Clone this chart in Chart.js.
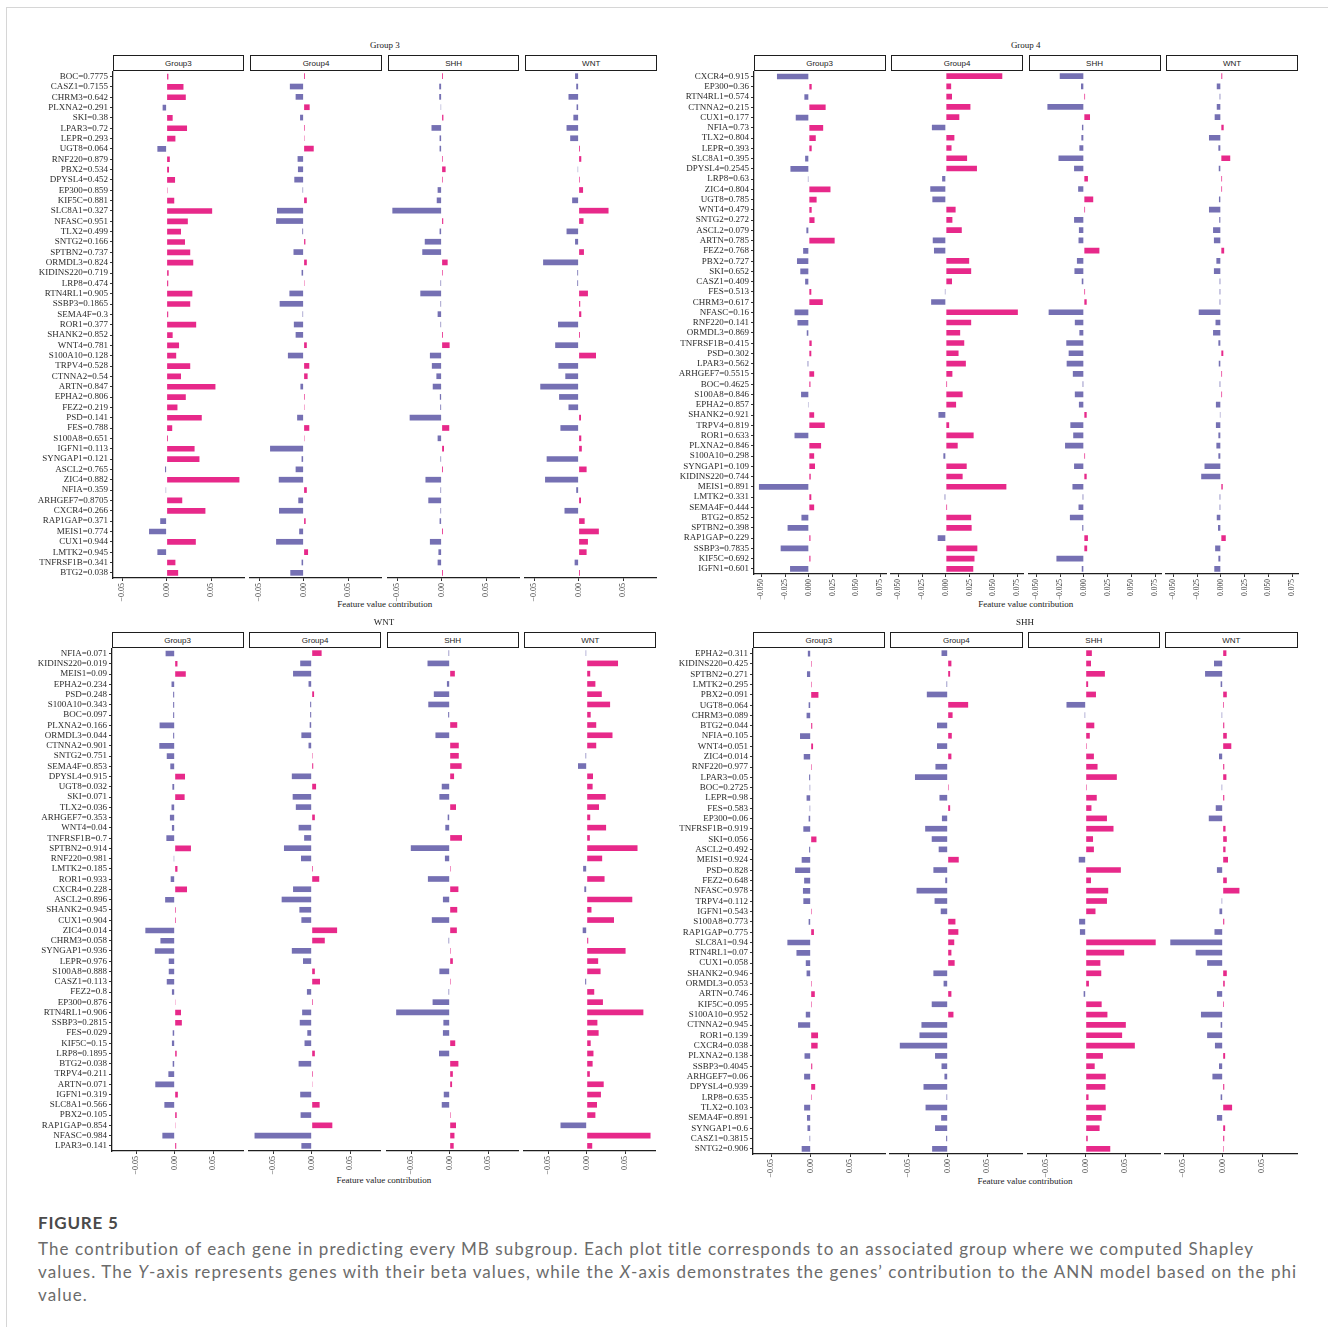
<!DOCTYPE html>
<html lang="en">
<head>
<meta charset="UTF-8">
<title>Figure 5</title>
<script src="https://cdn.jsdelivr.net/npm/chart.js"></script>
<style>
  body { margin: 0; background: #fff; }
  #fig { position: relative; width: 1328px; height: 1327px; overflow: hidden; background: #fff; }
  #frame { position: absolute; left: 6px; top: 7px; right: -2px; bottom: -2px; border-top: 1px solid #d6d6d6; border-left: 1px solid #d6d6d6; }
  #fig canvas { position: absolute; }
  .ptitle, .xtitle { position: absolute; transform: translate(-50%, -50%); white-space: nowrap;
    font: 9px "Liberation Serif", "Times New Roman", serif; color: #1a1a1a; }
  .strip { position: absolute; box-sizing: border-box; border: 1.4px solid #1e1e1e; background: #fff;
    display: flex; align-items: center; justify-content: center;
    font: 8px "Liberation Sans", Arial, sans-serif; color: #1a1a1a; }
  .figlabel { position: absolute; left: 38px; top: 1213px; font: bold 17px Lato, "Open Sans", sans-serif; color: #4a4a4a; line-height: 20px; letter-spacing: 0.8px; }
  .caption { position: absolute; left: 38px; top: 1237px; font: 17px Lato, "Open Sans", sans-serif; color: #6b6b6b; line-height: 23px; white-space: nowrap; }
</style>
</head>
<body>
<div id="fig">
  <div id="frame"></div>
  <div class="figlabel">FIGURE 5</div>
  <div class="caption"><span id="capL1">The contribution of each gene in predicting every MB subgroup. Each plot title corresponds to an associated group where we computed Shapley</span><br>values. The <i>Y</i>-axis represents genes with their beta values, while the <i>X</i>-axis demonstrates the genes’ contribution to the ANN model based on the phi<br>value.</div>
</div>

<script>
// facet names and x tick labels
const facetNames = ['Group3', 'Group4', 'SHH', 'WNT'];
const shortTickVals = [-0.05, 0, 0.05];
const shortTickLabels = ['−0.05', '0.00', '0.05'];
const longTickVals = [-0.05, -0.025, 0, 0.025, 0.05, 0.075];
const longTickLabels = ['−0.050', '−0.025', '0.000', '0.025', '0.050', '0.075'];

// ---- panel "Group 3"
const genesG3 = ['BOC=0.7775','CASZ1=0.7155','CHRM3=0.642','PLXNA2=0.291','SKI=0.38','LPAR3=0.72','LEPR=0.293','UGT8=0.064','RNF220=0.879','PBX2=0.534','DPYSL4=0.452','EP300=0.859','KIF5C=0.881','SLC8A1=0.327','NFASC=0.951','TLX2=0.499','SNTG2=0.166','SPTBN2=0.737','ORMDL3=0.824','KIDINS220=0.719','LRP8=0.474','RTN4RL1=0.905','SSBP3=0.1865','SEMA4F=0.3','ROR1=0.377','SHANK2=0.852','WNT4=0.781','S100A10=0.128','TRPV4=0.528','CTNNA2=0.54','ARTN=0.847','EPHA2=0.806','FEZ2=0.219','PSD=0.141','FES=0.788','S100A8=0.651','IGFN1=0.113','SYNGAP1=0.121','ASCL2=0.765','ZIC4=0.882','NFIA=0.359','ARHGEF7=0.8705','CXCR4=0.266','RAP1GAP=0.371','MEIS1=0.774','CUX1=0.944','LMTK2=0.945','TNFRSF1B=0.341','BTG2=0.038'];
const g3Group3 = [0.002,0.019,0.0216,-0.0045,0.0068,0.023,0.0099,-0.0104,0.0036,0.0027,0.0095,0.001,0.0086,0.0513,0.0239,0.0162,0.0207,0.0266,0.030,0.0023,0.0018,0.029,0.0266,0.0018,0.0333,0.0068,0.014,0.0108,0.0266,0.0162,0.055,0.0216,0.0122,0.0396,0.0063,0.0015,0.0315,0.037,-0.0018,0.082,-0.001,0.0176,0.0437,-0.0072,-0.0198,0.0329,-0.0104,0.0099,0.013];
const g3Group4 = [0.0015,-0.0155,-0.009,0.0068,-0.004,0.0013,0.001,0.0114,-0.0068,-0.0064,-0.0105,-0.0012,0.0036,-0.030,-0.031,-0.0015,0.002,-0.0114,0.0036,-0.0023,0.001,-0.016,-0.027,-0.0012,-0.011,-0.009,0.0036,-0.0177,0.0064,0.0045,-0.0036,0.0013,0.001,-0.0073,0.0064,0.001,-0.0378,-0.0023,-0.009,-0.028,0.0036,-0.006,-0.0277,0.0023,-0.005,-0.031,0.005,-0.0023,-0.015];
const g3SHH = [0.0015,-0.0027,-0.0027,-0.001,0.002,-0.0114,-0.0023,-0.0023,0.0013,0.0045,0.0013,-0.0045,-0.0055,-0.0555,0.0018,-0.0023,-0.019,-0.0218,0.0068,0.0013,-0.0013,-0.024,-0.0013,-0.0045,-0.0013,0.0015,0.009,-0.0132,-0.011,-0.0059,-0.010,-0.002,-0.0015,-0.036,0.0086,-0.0045,0.0027,-0.0013,0.0015,-0.0182,-0.0013,-0.015,-0.0013,-0.0023,0.0015,-0.0132,-0.0036,-0.0045,0.0015];
const g3WNT = [-0.004,-0.0027,-0.0114,-0.0023,-0.0059,-0.0136,-0.0095,0.0015,0.003,-0.001,0.0013,0.005,-0.0073,0.0337,0.0055,-0.0136,-0.004,0.006,-0.040,-0.0015,-0.0015,0.0105,0.0018,0.003,-0.0232,0.0015,-0.0264,0.0196,-0.0228,-0.015,-0.0432,-0.022,-0.0114,0.0027,-0.0205,0.003,0.0036,-0.036,0.009,-0.0378,-0.0027,0.0027,-0.0159,0.0068,0.0228,0.0105,0.009,-0.0045,0.0015];

// ---- panel "Group 4"
const genesG4 = ['CXCR4=0.915','EP300=0.36','RTN4RL1=0.574','CTNNA2=0.215','CUX1=0.177','NFIA=0.73','TLX2=0.804','LEPR=0.393','SLC8A1=0.395','DPYSL4=0.2545','LRP8=0.63','ZIC4=0.804','UGT8=0.785','WNT4=0.479','SNTG2=0.272','ASCL2=0.079','ARTN=0.785','FEZ2=0.768','PBX2=0.727','SKI=0.652','CASZ1=0.409','FES=0.513','CHRM3=0.617','NFASC=0.16','RNF220=0.141','ORMDL3=0.869','TNFRSF1B=0.415','PSD=0.302','LPAR3=0.562','ARHGEF7=0.5515','BOC=0.4625','S100A8=0.846','EPHA2=0.857','SHANK2=0.921','TRPV4=0.819','ROR1=0.633','PLXNA2=0.846','S100A10=0.298','SYNGAP1=0.109','KIDINS220=0.744','MEIS1=0.891','LMTK2=0.331','SEMA4F=0.444','BTG2=0.852','SPTBN2=0.398','RAP1GAP=0.229','SSBP3=0.7835','KIF5C=0.692','IGFN1=0.601'];
const g4Group3 = [-0.0336,0.003,-0.0047,0.0177,-0.0138,0.0151,0.0073,0.003,-0.0039,-0.0194,-0.001,0.0228,0.0082,0.003,0.006,-0.0026,0.0272,-0.006,-0.0125,-0.009,-0.0039,0.0026,0.0147,-0.0151,-0.012,-0.0022,0.003,0.0026,-0.0013,0.0056,0.0017,-0.0082,-0.0009,0.0056,0.0168,-0.0151,0.0129,0.0056,0.0065,0.002,-0.0526,0.0026,0.0056,-0.0078,-0.0224,0.0017,-0.0297,0.0017,-0.0198];
const g4Group4 = [0.0595,0.0056,0.0065,0.0259,0.0142,-0.0147,0.009,0.006,0.0224,0.0328,-0.0039,-0.0164,-0.0142,0.0103,0.0069,0.0168,-0.0138,-0.0125,0.0246,0.0267,0.0065,-0.001,-0.0155,0.0759,0.0267,0.0151,0.0194,0.0134,0.0211,0.0069,0.0013,0.0177,0.0108,-0.0078,0.0035,0.0293,0.0125,-0.0026,0.022,0.0177,0.0638,-0.0013,0.0013,0.0267,0.0272,-0.0086,0.0332,0.0302,0.0289];
const g4SHH = [-0.0254,-0.003,0.0013,-0.0384,0.0065,-0.002,-0.0026,-0.0047,-0.0267,-0.0103,0.0043,-0.006,0.0099,0.0013,-0.0103,-0.0052,-0.0056,0.0164,-0.0073,-0.0099,-0.0022,0.0013,0.003,-0.0371,-0.0095,-0.0047,-0.0185,-0.016,-0.0181,-0.0116,-0.0013,-0.0095,-0.0052,0.003,-0.0142,-0.0112,-0.0198,0.0013,-0.0103,0.003,-0.012,-0.0013,-0.0056,-0.0147,-0.0017,0.0043,0.0035,-0.0289,-0.0022];
const g4WNT = [0.0015,-0.0043,-0.0013,-0.0043,-0.0065,0.003,-0.0125,-0.0026,0.0099,-0.0022,0.0013,0.0013,-0.002,-0.0125,-0.0017,-0.0082,-0.0073,0.0035,-0.0047,-0.0073,-0.0013,-0.0013,-0.0013,-0.0233,-0.0056,-0.0082,-0.0026,0.0026,-0.0022,0.0013,-0.0013,0.0013,-0.0052,-0.001,-0.0052,-0.0026,-0.0047,-0.0026,-0.0172,-0.0207,0.002,-0.0013,-0.0013,-0.0043,-0.003,0.0052,-0.006,-0.0026,-0.0069];

// ---- panel "WNT"
const genesWNT = ['NFIA=0.071','KIDINS220=0.019','MEIS1=0.09','EPHA2=0.234','PSD=0.248','S100A10=0.343','BOC=0.097','PLXNA2=0.166','ORMDL3=0.044','CTNNA2=0.901','SNTG2=0.751','SEMA4F=0.853','DPYSL4=0.915','UGT8=0.032','SKI=0.071','TLX2=0.036','ARHGEF7=0.353','WNT4=0.04','TNFRSF1B=0.7','SPTBN2=0.914','RNF220=0.981','LMTK2=0.185','ROR1=0.933','CXCR4=0.228','ASCL2=0.896','SHANK2=0.945','CUX1=0.904','ZIC4=0.014','CHRM3=0.058','SYNGAP1=0.936','LEPR=0.976','S100A8=0.888','CASZ1=0.113','FEZ2=0.8','EP300=0.876','RTN4RL1=0.906','SSBP3=0.2815','FES=0.029','KIF5C=0.15','LRP8=0.1895','BTG2=0.038','TRPV4=0.211','ARTN=0.071','IGFN1=0.319','SLC8A1=0.566','PBX2=0.105','RAP1GAP=0.854','NFASC=0.984','LPAR3=0.141'];
const wntGroup3 = [-0.0118,0.0036,0.0144,-0.0041,-0.002,-0.002,-0.002,-0.0196,-0.002,-0.020,-0.0103,-0.0057,0.0134,-0.003,0.0129,-0.0041,-0.0062,-0.0036,-0.0108,0.0211,-0.0012,0.0036,-0.0052,0.016,-0.0124,0.0015,0.0015,-0.0381,-0.0185,-0.0258,-0.0077,-0.0077,-0.0103,-0.0036,0.001,0.0082,0.0093,-0.0026,-0.0036,0.0026,-0.0026,-0.0082,-0.0252,0.0041,-0.0134,0.0026,0.001,-0.016,0.002];
const wntGroup4 = [0.0129,-0.0149,-0.0242,-0.0041,0.0031,-0.002,-0.002,-0.0026,-0.0134,-0.0041,0.0012,0.002,-0.0258,0.0057,-0.0247,-0.0206,0.0041,-0.017,-0.0098,-0.036,-0.0139,0.0015,0.0098,-0.0242,-0.039,-0.016,-0.0134,0.033,0.017,-0.0258,-0.0113,0.0041,0.0108,-0.0062,0.0015,-0.0124,-0.0155,-0.0057,-0.0093,0.0041,-0.017,0.0015,0.001,-0.0149,0.0103,-0.0144,0.0268,-0.0742,-0.0134];
const wntSHH = [-0.0015,-0.0288,0.0067,-0.0036,-0.0206,-0.0278,-0.002,0.0098,-0.0185,0.0118,0.0118,0.0155,0.0057,-0.0103,-0.0134,0.0082,-0.0026,-0.0057,0.016,-0.0505,-0.0062,0.0013,-0.0283,0.0113,-0.0088,0.0098,-0.0232,0.0093,-0.0015,0.0013,0.0041,-0.0134,0.0013,-0.0015,-0.0222,-0.0695,-0.0082,-0.0088,0.0072,-0.0139,0.0113,0.0041,0.0031,-0.0077,-0.0103,0.0013,0.0082,0.0062,0.0052];
const wntWNT = [-0.0013,0.0407,0.0046,0.0113,0.0196,0.0304,0.0052,0.0124,0.0335,0.0124,-0.0015,-0.0113,0.0082,0.0077,0.0247,0.016,0.0046,0.0252,0.0041,0.066,0.0201,-0.0046,0.0232,-0.0031,0.0592,0.0062,0.0355,-0.0052,0.002,0.0505,0.0149,0.018,-0.002,0.0098,0.0211,0.0736,0.0139,0.0155,0.0052,0.0088,0.0077,0.0041,0.0221,0.0185,0.0134,0.0113,-0.034,0.0829,0.0072];

// ---- panel "SHH"
const genesSHH = ['EPHA2=0.311','KIDINS220=0.425','SPTBN2=0.271','LMTK2=0.295','PBX2=0.091','UGT8=0.064','CHRM3=0.089','BTG2=0.044','NFIA=0.105','WNT4=0.051','ZIC4=0.014','RNF220=0.977','LPAR3=0.05','BOC=0.2725','LEPR=0.98','FES=0.583','EP300=0.06','TNFRSF1B=0.919','SKI=0.056','ASCL2=0.492','MEIS1=0.924','PSD=0.828','FEZ2=0.648','NFASC=0.978','TRPV4=0.112','IGFN1=0.543','S100A8=0.773','RAP1GAP=0.775','SLC8A1=0.94','RTN4RL1=0.07','CUX1=0.058','SHANK2=0.946','ORMDL3=0.053','ARTN=0.746','KIF5C=0.095','S100A10=0.952','CTNNA2=0.945','ROR1=0.139','CXCR4=0.038','PLXNA2=0.138','SSBP3=0.4045','ARHGEF7=0.06','DPYSL4=0.939','LRP8=0.635','TLX2=0.103','SEMA4F=0.891','SYNGAP1=0.6','CASZ1=0.3815','SNTG2=0.906'];
const shhGroup3 = [-0.0036,0.0013,-0.0047,0.0013,0.0098,-0.0026,-0.0052,0.002,-0.0135,0.003,-0.0088,0.0013,-0.002,-0.0013,-0.0052,-0.0013,-0.0026,-0.0093,0.0073,-0.002,-0.0114,-0.0197,-0.0083,-0.0098,-0.0093,0.0013,-0.0026,0.0041,-0.0295,-0.018,-0.0062,-0.0052,0.0013,0.0052,0.0013,-0.0062,-0.016,0.0093,0.0088,-0.0078,0.002,-0.0083,0.0057,0.0013,-0.0083,-0.0047,-0.0041,-0.0015,-0.0114];
const shhGroup4 = [-0.0078,0.0047,0.0031,-0.0015,-0.0264,0.0259,0.0062,-0.0135,0.0052,-0.0135,0.0047,-0.0155,-0.0414,0.0013,-0.0104,0.0031,-0.0073,-0.0285,-0.0202,-0.0114,0.014,-0.0181,-0.0031,-0.0394,-0.0166,-0.0088,0.0098,0.0135,0.0083,0.0047,0.0088,-0.0181,-0.0052,0.0047,-0.0202,0.0073,-0.0332,-0.0357,-0.0606,-0.016,-0.0078,-0.0041,-0.0306,-0.0015,-0.028,-0.0083,-0.016,-0.002,-0.0197];
const shhSHH = [0.0078,0.0067,0.0243,0.0031,0.013,-0.0243,-0.0013,0.0109,0.0052,0.0013,0.0104,0.015,0.0394,0.0013,0.014,0.0073,0.0269,0.0352,0.0093,0.0104,-0.0088,0.0445,0.0067,0.0285,0.0269,0.0124,-0.0083,-0.0073,0.0886,0.0487,0.0186,0.0197,0.0041,-0.0026,0.0202,0.0275,0.0508,0.0461,0.0622,0.0218,0.0114,0.0254,0.0249,0.0036,0.0254,0.0202,0.0176,0.0026,0.0311];
const shhWNT = [0.0047,-0.011,-0.0223,-0.0026,0.0052,0.0015,-0.0013,0.002,0.0052,0.0109,-0.0047,0.002,0.0047,-0.0013,0.002,-0.0088,-0.0176,0.0036,0.0052,0.0036,0.0067,-0.0073,0.0052,0.0212,-0.0013,-0.0041,0.002,-0.0104,-0.0663,-0.0342,-0.0197,0.0052,0.0026,-0.0073,0.0015,-0.0275,-0.0026,-0.0197,-0.0098,0.0031,-0.0047,-0.013,0.002,-0.0026,0.0119,-0.0073,0.0031,0.002,0.0013];

const PINK = '#E7298A';
const PURPLE = '#7570B3';

// layout of the four panels (pixel boxes of the facet plotting areas)
const panels = [
  { title: 'Group 3', genes: genesG3, series: [g3Group3, g3Group4, g3SHH, g3WNT],
    xmin: -0.0604, xmax: 0.0883, tv: shortTickVals, tl: shortTickLabels, tickFont: 8,
    x0: 112.5, step: 137.6, w: 131.8, stripTop: 55, plotTop: 71, plotBottom: 577.5, titleY: 45, axisTitleY: 604 },
  { title: 'Group 4', genes: genesG4, series: [g4Group3, g4Group4, g4SHH, g4WNT],
    xmin: -0.0578, xmax: 0.0815, tv: longTickVals, tl: longTickLabels, tickFont: 7.5,
    x0: 753.5, step: 137.5, w: 132, stripTop: 55, plotTop: 71, plotBottom: 573.5, titleY: 45, axisTitleY: 604 },
  { title: 'WNT', genes: genesWNT, series: [wntGroup3, wntGroup4, wntSHH, wntWNT],
    xmin: -0.0814, xmax: 0.090, tv: shortTickVals, tl: shortTickLabels, tickFont: 8,
    x0: 111.5, step: 137.6, w: 132, stripTop: 632, plotTop: 648, plotBottom: 1150.5, titleY: 622, axisTitleY: 1180 },
  { title: 'SHH', genes: genesSHH, series: [shhGroup3, shhGroup4, shhSHH, shhWNT],
    xmin: -0.073, xmax: 0.0953, tv: shortTickVals, tl: shortTickLabels, tickFont: 8,
    x0: 752.5, step: 137.5, w: 132.5, stripTop: 632, plotTop: 648, plotBottom: 1153.5, titleY: 622, axisTitleY: 1181 }
];

const fig = document.getElementById('fig');
const LABEL_W = 104;

// stretch the caption a little so its first line ends where the original one does
const capLine = document.getElementById('capL1');
const capW = capLine.getBoundingClientRect().width;
document.querySelector('.caption').style.letterSpacing = ((1217 - capW) / capLine.textContent.length) + 'px';

function addText(cls, text, x, y) {
  const d = document.createElement('div');
  d.className = cls;
  d.textContent = text;
  d.style.left = x + 'px';
  d.style.top = y + 'px';
  fig.appendChild(d);
}

// resize the canvas until its chartArea has the wanted size, then move it in place
function fitArea(chart, cv, tx, ty, tw, th) {
  for (let i = 0; i < 5; i++) {
    const a = chart.chartArea;
    const dw = tw - (a.right - a.left);
    const dh = th - (a.bottom - a.top);
    if (Math.abs(dw) < 0.5 && Math.abs(dh) < 0.5) break;
    chart.resize(Math.round(chart.width + dw), Math.round(chart.height + dh));
  }
  const a = chart.chartArea;
  cv.style.left = Math.round(tx - a.left) + 'px';
  cv.style.top = Math.round(ty - a.top) + 'px';
}

panels.forEach(p => {
  const right = p.x0 + 3 * p.step + p.w;
  addText('ptitle', p.title, (p.x0 + right) / 2, p.titleY);
  addText('xtitle', 'Feature value contribution', (p.x0 + right) / 2, p.axisTitleY);

  p.series.forEach((vals, k) => {
    const left = p.x0 + k * p.step;
    const first = k === 0;

    const s = document.createElement('div');
    s.className = 'strip';
    s.textContent = facetNames[k];
    s.style.left = left + 'px';
    s.style.top = p.stripTop + 'px';
    s.style.width = p.w + 'px';
    s.style.height = (p.plotTop - p.stripTop) + 'px';
    fig.appendChild(s);

    const ph = p.plotBottom - p.plotTop;
    const cv = document.createElement('canvas');
    cv.width = Math.round(p.w + (first ? LABEL_W : 0) + 20);
    cv.height = Math.round(ph + 40);
    fig.appendChild(cv);

    const chart = new Chart(cv, {
      type: 'bar',
      data: {
        labels: p.genes,
        datasets: [{
          data: vals,
          backgroundColor: vals.map(v => v >= 0 ? PINK : PURPLE),
          borderWidth: 0,
          barPercentage: 0.55,
          categoryPercentage: 1
        }]
      },
      options: {
        indexAxis: 'y',
        responsive: false,
        maintainAspectRatio: false,
        animation: false,
        devicePixelRatio: 1,
        layout: { padding: 0 },
        plugins: { legend: { display: false }, tooltip: { enabled: false } },
        scales: {
          x: {
            type: 'linear',
            min: p.xmin,
            max: p.xmax,
            afterBuildTicks: axis => { axis.ticks = p.tv.map(v => ({ value: v })); },
            afterFit: axis => { axis.height = 30; },
            ticks: {
              autoSkip: false, minRotation: 90, maxRotation: 90, padding: 2,
              color: '#3a3a3a', font: { family: 'Liberation Serif', size: p.tickFont },
              callback: (v, i) => p.tl[i]
            },
            grid: { display: true, drawOnChartArea: false, drawTicks: true, tickLength: 3, color: '#333' },
            border: { display: true, color: '#1e1e1e', width: 1.3 }
          },
          y: {
            display: first,
            afterFit: axis => { axis.width = LABEL_W; },
            ticks: { autoSkip: false, padding: 2, color: '#2b2b2b', font: { family: 'Liberation Serif', size: 9 } },
            grid: { display: true, offset: false, drawOnChartArea: false, drawTicks: true, tickLength: 3, color: '#333' },
            border: { display: true, color: '#1e1e1e', width: 1.3 }
          }
        }
      }
    });
    fitArea(chart, cv, left, p.plotTop, p.w, ph);
  });
});
</script>
</body>
</html>
